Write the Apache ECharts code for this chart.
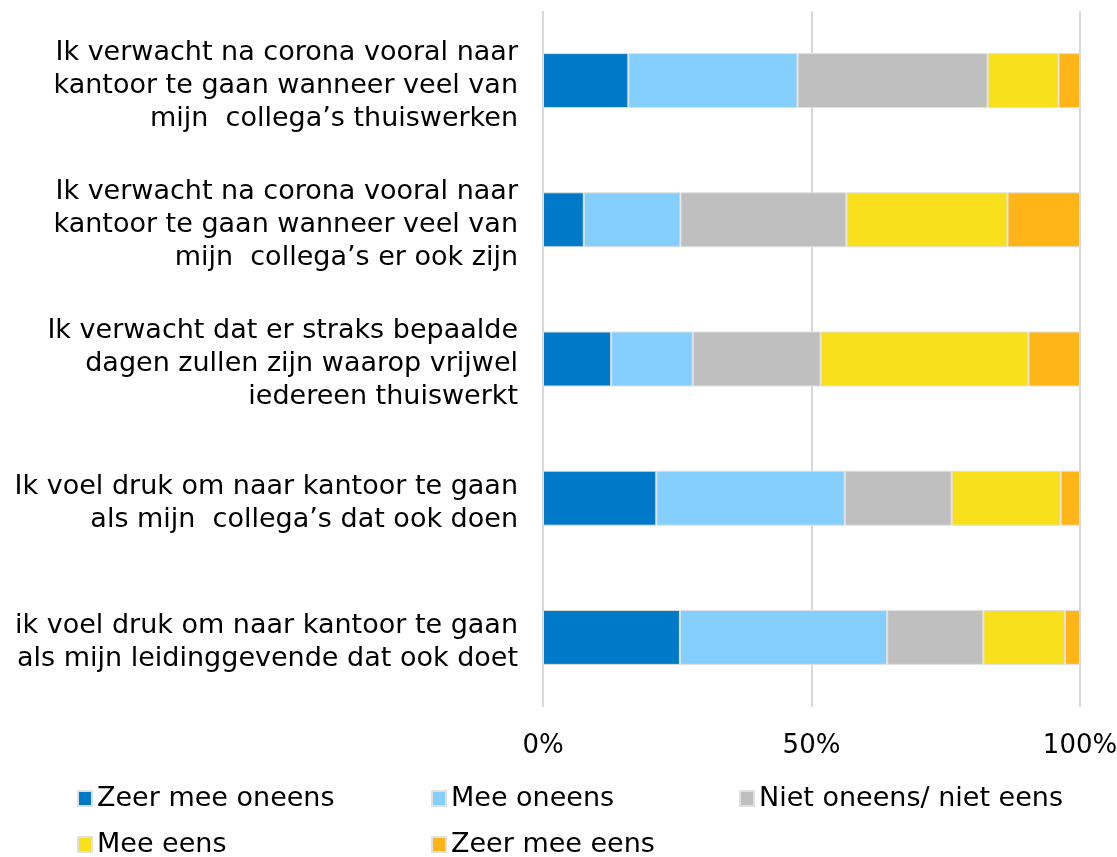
<!DOCTYPE html>
<html>
<head>
<meta charset="utf-8">
<script src="https://cdn.jsdelivr.net/npm/echarts@6/dist/echarts.min.js"></script>
<style>
  html, body { margin: 0; padding: 0; background: #fff; }
  #main { width: 1117px; height: 857px; }
</style>
</head>
<body>
<div id="main"></div>
<script>
var categories = [
    'Ik verwacht na corona vooral naar\nkantoor te gaan wanneer veel van\nmijn  collega\u2019s thuiswerken',
    'Ik verwacht na corona vooral naar\nkantoor te gaan wanneer veel van\nmijn  collega\u2019s er ook zijn',
    'Ik verwacht dat er straks bepaalde\ndagen zullen zijn waarop vrijwel\niedereen thuiswerkt',
    'Ik voel druk om naar kantoor te gaan\nals mijn  collega\u2019s dat ook doen',
    'ik voel druk om naar kantoor te gaan\nals mijn leidinggevende dat ook doet'
];
var seriesNames = ['Zeer mee oneens', 'Mee oneens', 'Niet oneens/ niet eens', 'Mee eens', 'Zeer mee eens'];
var zeerOneens = [15.9, 7.6, 12.7, 21.1, 25.5];
var oneens = [31.5, 18.0, 15.2, 35.1, 38.6];
var neutraal = [35.4, 30.9, 23.8, 19.9, 17.9];
var eens = [13.2, 30.0, 38.7, 20.3, 15.2];
var zeerEens = [4.0, 13.5, 9.6, 3.6, 2.8];
var colors = ['#007ac8', '#84cffd', '#bfbfbf', '#f8e11c', '#ffb418'];
var values = [zeerOneens, oneens, neutraal, eens, zeerEens];

var chart = echarts.init(document.getElementById('main'));
var font = 'Verdana, "DejaVu Sans", sans-serif';

var legendPos = [[72, 780], [426, 780], [734, 780], [72, 826], [426, 826]];
var legends = seriesNames.map(function (n, i) {
    return {
        data: [n],
        left: legendPos[i][0],
        top: legendPos[i][1],
        itemWidth: 14,
        itemHeight: 15,
        itemGap: 4,
        icon: 'rect',
        textStyle: { fontSize: 27, color: '#000', fontFamily: font }
    };
});

var option = {
    animation: false,
    color: colors,
    legend: legends,
    grid: {
        left: 543,
        right: 37,
        top: 11,
        bottom: 150,
        containLabel: false,
        outerBoundsMode: 'none'
    },
    xAxis: {
        type: 'value',
        min: 0,
        max: 100,
        interval: 50,
        axisLine: { show: false },
        axisTick: { show: false },
        splitLine: { lineStyle: { color: '#d9d9d9', width: 2 } },
        axisLabel: {
            formatter: '{value}%',
            fontSize: 26,
            color: '#000',
            fontFamily: font,
            margin: 26
        }
    },
    yAxis: {
        type: 'category',
        inverse: true,
        data: categories,
        axisLine: { show: false },
        axisTick: { show: false },
        axisLabel: {
            color: '#000',
            margin: 25,
            align: 'right',
            // small empty first line pushes the block a little down, as in the original
            formatter: function (v) {
                return '{sp|}\n' + v.split('\n').map(function (l) {
                    return '{t|' + l + '}';
                }).join('\n');
            },
            rich: {
                sp: { lineHeight: 10, fontSize: 1 },
                t: { fontSize: 27, lineHeight: 33, color: '#000', fontFamily: font }
            }
        }
    },
    series: seriesNames.map(function (n, i) {
        return {
            name: n,
            type: 'bar',
            stack: 'total',
            barWidth: 55,
            data: values[i],
            itemStyle: { borderColor: '#e0e0e0', borderWidth: 1 }
        };
    })
};
chart.setOption(option);
</script>
</body>
</html>
